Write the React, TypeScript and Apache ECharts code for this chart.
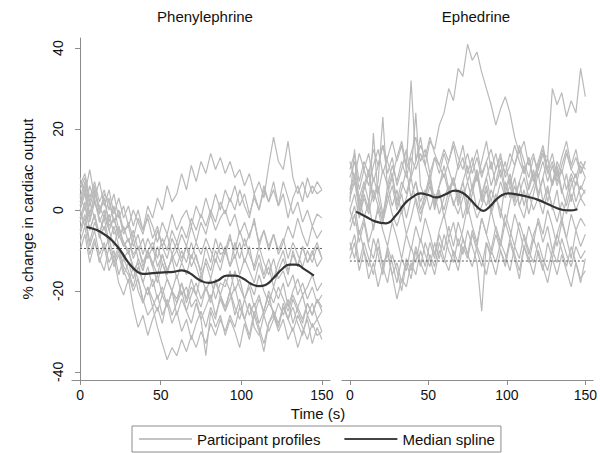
import React, { useEffect, useRef } from "react";
import * as echarts from "echarts";

const TIME_S = [0,3,6,9,12,15,18,21,24,27,30,33,36,39,42,45,48,51,54,57,60,63,66,69,72,75,78,81,84,87,90,93,96,99,102,105,108,111,114,117,120,123,126,129,132,135,138,141,144,147,150];

const X_TICKS = [0, 50, 100, 150];
const Y_TICKS = [-40, -20, 0, 20, 40];

// Phenylephrine participant profiles (% change, sampled every 3 s)
const PHEN_1 = [2,6,-1,4,1,-2,3,-3,-1,-6,-3,-7,-2,-5,1,-2,3,0,6,2,4,9,5,11,7,12,9,14,10,13,9,12,8,10,6,9,4,7,3,11,18,12,10,17,8,4,7,3,6,4,5];
const PHEN_2 = [6,9,3,7,2,5,0,4,-2,1,-4,0,-3,-6,-1,-4,-8,-3,-6,-1,-5,-2,0,-4,1,-2,3,-1,4,0,5,2,6,1,4,-1,3,0,5,2,7,1,4,-2,3,6,2,8,4,7,5];
const PHEN_3 = [3,7,1,5,-1,4,2,-3,0,-5,-4,-9,-6,-11,-7,-10,-5,-9,-12,-7,-10,-6,-9,-4,-8,-3,-6,-1,-5,-2,0,-4,-1,-6,-3,-7,-2,-9,-5,-10,-6,-11,-8,-4,-7,-2,-6,-9,-4,-7,-5];
const PHEN_4 = [0,4,-3,2,-2,-5,-1,-6,-4,-9,-7,-12,-9,-14,-10,-13,-16,-11,-15,-12,-17,-13,-16,-11,-14,-18,-12,-15,-10,-13,-9,-14,-11,-16,-12,-15,-18,-13,-17,-14,-19,-15,-12,-16,-10,-14,-9,-13,-11,-8,-12];
const PHEN_5 = [-3,1,-5,-1,-6,-2,-8,-4,-9,-12,-10,-15,-13,-18,-14,-19,-16,-21,-17,-20,-23,-18,-22,-17,-21,-24,-19,-22,-18,-21,-17,-20,-15,-19,-22,-18,-21,-16,-20,-23,-19,-22,-18,-24,-20,-17,-21,-19,-16,-20,-18];
const PHEN_6 = [-5,-1,-8,-3,-6,-10,-7,-12,-9,-14,-16,-20,-17,-23,-19,-22,-25,-21,-24,-20,-26,-22,-25,-28,-23,-27,-24,-21,-26,-22,-25,-20,-24,-27,-22,-26,-23,-28,-25,-21,-26,-29,-24,-27,-22,-25,-28,-23,-26,-22,-24];
const PHEN_7 = [5,8,2,6,0,3,-3,1,-5,-8,-10,-14,-17,-22,-26,-24,-29,-33,-37,-34,-36,-32,-35,-31,-34,-30,-33,-28,-31,-27,-30,-26,-29,-24,-27,-23,-26,-22,-25,-20,-23,-19,-22,-25,-21,-24,-27,-23,-26,-22,-25];
const PHEN_8 = [-8,-4,-11,-7,-13,-9,-15,-12,-18,-21,-17,-24,-29,-26,-31,-27,-24,-28,-22,-26,-23,-20,-25,-21,-18,-22,-19,-23,-17,-21,-24,-20,-26,-22,-27,-31,-25,-29,-33,-28,-26,-30,-27,-32,-29,-34,-30,-27,-33,-29,-32];
const PHEN_9 = [0,-4,2,-2,-6,-1,-5,-9,-4,-8,-11,-7,-12,-15,-10,-14,-18,-13,-17,-20,-16,-21,-19,-24,-22,-27,-36,-25,-29,-26,-31,-27,-30,-34,-28,-32,-26,-30,-35,-28,-25,-29,-23,-27,-24,-28,-31,-26,-29,-27,-30];
const PHEN_10 = [-10,-6,-13,-8,-12,-15,-9,-14,-11,-16,-13,-17,-12,-15,-10,-14,-9,-13,-16,-11,-14,-10,-13,-8,-12,-15,-9,-13,-7,-11,-10,-6,-12,-8,-13,-9,-15,-11,-16,-12,-17,-13,-10,-15,-11,-14,-9,-13,-10,-14,-12];
const PHEN_11 = [8,4,10,3,7,1,5,-1,3,-2,1,-4,0,-5,-2,-7,-4,-9,-6,-11,-8,-12,-9,-14,-11,-16,-13,-17,-12,-15,-10,-14,-8,-12,-7,-11,-14,-9,-13,-16,-12,-17,-15,-19,-16,-21,-18,-22,-19,-23,-21];
const PHEN_12 = [-2,2,-5,-1,-7,-4,-9,-13,-10,-15,-18,-14,-20,-23,-19,-24,-21,-26,-23,-28,-25,-30,-27,-32,-28,-25,-29,-24,-27,-21,-25,-22,-19,-24,-27,-23,-29,-31,-26,-30,-27,-23,-26,-22,-28,-24,-21,-26,-23,-27,-25];
const PHEN_13 = [4,0,6,2,-1,3,-4,-2,-6,-9,-7,-11,-9,-13,-10,-8,-12,-7,-10,-5,-8,-4,-7,-2,-5,-1,-4,0,-3,2,-1,3,0,5,1,-2,4,0,6,2,5,1,7,3,-1,2,-3,0,-4,-1,-2];
const PHEN_14 = [-6,-2,-9,-5,-11,-8,-13,-10,-16,-12,-15,-19,-14,-18,-21,-17,-22,-19,-24,-20,-22,-18,-23,-19,-21,-16,-20,-17,-22,-18,-19,-15,-20,-17,-22,-19,-24,-21,-26,-23,-25,-28,-24,-27,-30,-26,-29,-32,-28,-31,-30];
const PHEN_15 = [1,5,-2,3,-3,0,-5,-2,-7,-4,-8,-5,-10,-7,-12,-9,-14,-11,-15,-12,-10,-13,-9,-12,-8,-11,-7,-10,-13,-8,-11,-7,-10,-5,-9,-6,-3,-8,-5,-9,-6,-10,-7,-12,-8,-11,-14,-10,-13,-9,-12];

// Ephedrine participant profiles
const EPH_1 = [5,9,3,7,2,8,4,10,6,11,7,12,8,13,10,14,11,17,15,21,24,30,27,35,33,41,37,39,34,30,26,21,25,28,24,18,14,17,11,14,8,12,7,11,6,10,5,9,6,11,8];
const EPH_2 = [0,4,-2,3,-1,5,1,-3,2,6,0,4,-2,3,7,2,5,0,4,-1,3,6,1,5,-2,2,6,0,4,1,5,2,7,3,6,1,4,8,3,6,10,14,13,30,26,29,23,27,24,35,28];
const EPH_3 = [10,14,7,12,9,15,11,16,12,8,13,17,11,32,12,16,13,18,14,11,15,12,17,13,10,14,9,13,8,12,15,10,13,9,14,11,16,12,8,13,10,14,9,12,7,11,15,10,13,9,12];
const EPH_4 = [4,8,1,6,10,3,7,23,5,9,2,7,4,9,24,6,3,8,1,6,9,4,8,2,7,11,5,9,3,8,12,6,10,4,8,2,7,11,5,9,3,8,13,6,10,4,9,2,7,5,8];
const EPH_5 = [0,-4,3,-2,2,-5,1,-3,4,-1,-4,0,-6,-2,3,-1,2,6,1,4,0,5,2,-1,3,7,2,-2,1,5,-1,3,0,-4,2,6,1,-2,4,0,3,-1,5,1,-3,2,-1,4,0,3,1];
const EPH_6 = [-5,-1,-8,-3,-9,-12,-7,-14,-10,-16,-22,-17,-19,-13,-16,-10,-14,-8,-12,-6,-10,-4,-9,-3,-7,-11,-5,-9,-2,-6,-10,-4,-8,-1,-5,-9,-3,-7,-11,-6,-3,-8,-4,-10,-6,-2,-7,-12,-5,-9,-6];
const EPH_7 = [-8,-12,-5,-10,-14,-7,-11,-16,-9,-13,-18,-12,-15,-9,-13,-7,-11,-14,-8,-12,-6,-10,-13,-7,-11,-5,-9,-13,-25,-8,-11,-6,-10,-14,-8,-12,-17,-9,-13,-7,-11,-15,-8,-12,-6,-10,-14,-9,-13,-18,-12];
const EPH_8 = [3,7,0,5,9,2,6,-1,4,8,1,5,10,3,7,0,4,9,2,6,11,5,8,3,7,1,6,10,4,8,2,7,12,5,9,3,7,1,6,10,4,8,2,7,11,5,1,6,9,3,5];
const EPH_9 = [-3,1,-6,-2,-8,-4,0,-5,-9,-3,-7,-12,-6,-10,-4,-8,-2,-6,-11,-5,-1,-7,-3,-9,-5,1,-4,-8,-2,-6,0,-5,-9,-3,-7,-1,-5,-10,-4,-8,-2,-6,0,-4,-9,-3,-7,-1,-5,-2,-4];
const EPH_10 = [8,12,5,10,14,7,11,16,9,13,6,10,15,8,12,18,11,7,13,9,14,10,6,11,16,9,13,7,12,17,10,14,8,12,6,11,15,9,13,7,12,16,10,14,8,13,17,11,15,9,12];
const EPH_11 = [-10,-6,-13,-8,-12,-16,-9,-14,-18,-11,-15,-20,-13,-17,-10,-14,-8,-12,-16,-10,-13,-7,-11,-15,-9,-12,-6,-10,-14,-8,-12,-16,-10,-13,-7,-11,-15,-9,-12,-16,-10,-14,-18,-12,-16,-11,-15,-19,-13,-17,-15];
const EPH_12 = [2,15,-1,4,0,19,3,-2,6,1,5,-1,3,8,2,-3,4,7,0,5,-2,3,8,1,5,-1,4,9,2,6,0,4,-2,7,3,8,1,5,-1,4,9,2,6,0,5,-3,3,8,2,6,4];
const EPH_13 = [12,8,14,10,6,11,15,9,13,17,12,16,10,14,18,12,15,9,13,11,8,12,16,10,13,7,11,15,9,12,6,10,14,8,11,16,12,9,13,7,11,15,10,6,12,9,14,10,8,12,10];
const EPH_14 = [-12,-8,-15,-10,-17,-13,-19,-14,-11,-16,-13,-18,-12,-15,-9,-13,-16,-11,-14,-8,-12,-15,-10,-13,-7,-11,-14,-9,-12,-16,-10,-13,-8,-11,-15,-9,-12,-6,-10,-13,-8,-12,-15,-10,-13,-7,-11,-14,-9,-12,-10];

// Median splines: [time, % change]
const PHEN_MEDIAN = [[4,-4.2],[10,-4.9],[15,-6],[20,-7.6],[25,-10],[30,-13],[35,-15.1],[39,-15.8],[45,-15.6],[52,-15.4],[58,-15.3],[63,-14.9],[68,-15.6],[74,-17.3],[80,-18],[85,-17.5],[91,-16.2],[96,-16.2],[101,-16.9],[106,-18.2],[111,-18.8],[115,-18.5],[120,-16.8],[125,-14.7],[130,-13.5],[134,-13.5],[139,-14.6],[145,-16.2]];
const EPH_MEDIAN = [[4,-0.4],[10,-1.6],[16,-2.8],[23,-3.3],[29,-1.5],[35,1.6],[40,3.2],[45,4.1],[50,3.7],[55,3.1],[61,3.9],[67,4.8],[72,4.2],[77,2.5],[81,0.8],[85,-0.2],[89,0.8],[93,2.5],[97,3.7],[101,4.1],[107,3.8],[114,3.2],[120,2.5],[126,1.5],[131,0.6],[136,0],[140,-0.1],[145,0.2]];

// Reference (dotted) levels
const PHEN_REF = -9.5;
const EPH_REF = -12.6;
const REF_SPAN = [0, 150];

const PHEN_PROFILES = [PHEN_1, PHEN_2, PHEN_3, PHEN_4, PHEN_5, PHEN_6, PHEN_7, PHEN_8, PHEN_9, PHEN_10, PHEN_11, PHEN_12, PHEN_13, PHEN_14, PHEN_15];
const EPH_PROFILES = [EPH_1, EPH_2, EPH_3, EPH_4, EPH_5, EPH_6, EPH_7, EPH_8, EPH_9, EPH_10, EPH_11, EPH_12, EPH_13, EPH_14];

const FONT = "'Liberation Sans', Arial, Helvetica, sans-serif";
const GRAY = "#b9b9b9";
const DARK = "#333333";
const AXIS = "#8c8c8c";

export default function App() {
  const ref = useRef<HTMLDivElement>(null);

  useEffect(() => {
    if (!ref.current) return;
    const chart = echarts.init(ref.current, null, { renderer: "svg" });

    const profileSeries = (profiles: number[][], idx: number) =>
      profiles.map((p) => ({
        name: "Participant profiles",
        type: "line",
        xAxisIndex: idx,
        yAxisIndex: idx,
        data: TIME_S.map((t, i) => [t, p[i]]),
        showSymbol: false,
        symbol: "none",
        lineStyle: { color: GRAY, width: 1.2 },
        itemStyle: { color: GRAY },
        silent: true,
        z: 2,
      }));

    const refSeries = (v: number, idx: number) => ({
      name: "ref",
      type: "line",
      xAxisIndex: idx,
      yAxisIndex: idx,
      data: REF_SPAN.map((t) => [t, v]),
      symbol: "none",
      lineStyle: { color: "#555", width: 1, type: [2, 2] },
      silent: true,
      z: 3,
    });

    const medianSeries = (d: number[][], idx: number) => ({
      name: "Median spline",
      type: "line",
      xAxisIndex: idx,
      yAxisIndex: idx,
      data: d,
      smooth: true,
      symbol: "none",
      lineStyle: { color: DARK, width: 2.2 },
      itemStyle: { color: DARK },
      silent: true,
      z: 4,
    });

    const xAxisBase = (idx: number) => ({
      gridIndex: idx,
      type: "value",
      min: -5,
      max: 155,
      axisLine: { show: true, onZero: false, lineStyle: { color: AXIS, width: 1 } },
      axisTick: { show: true, customValues: X_TICKS, length: 5, lineStyle: { color: AXIS } },
      axisLabel: { customValues: X_TICKS, color: "#111", fontSize: 14, fontFamily: FONT, margin: 8 },
      splitLine: { show: false },
    });

    chart.setOption({
      animation: false,
      backgroundColor: "#ffffff",
      grid: [
        { left: 72, top: 38, width: 258, height: 342 },
        { left: 342, top: 38, width: 258, height: 342 },
      ],
      xAxis: [xAxisBase(0), xAxisBase(1)],
      yAxis: [
        {
          gridIndex: 0,
          type: "value",
          min: -42,
          max: 42.5,
          name: "% change in cardiac output",
          nameLocation: "middle",
          nameGap: 37,
          nameTextStyle: { color: "#111", fontSize: 15, fontFamily: FONT },
          axisLine: { show: true, lineStyle: { color: AXIS, width: 1 } },
          axisTick: { show: true, customValues: Y_TICKS, length: 5, lineStyle: { color: AXIS } },
          axisLabel: { customValues: Y_TICKS, rotate: 90, color: "#111", fontSize: 14, fontFamily: FONT, margin: 7 },
          splitLine: { show: false },
        },
        { gridIndex: 1, type: "value", min: -42, max: 42.5, show: false },
      ],
      legend: {
        data: [
          { name: "Participant profiles", icon: "rect", itemStyle: { color: "#c4c4c4" } },
          { name: "Median spline", icon: "rect", itemStyle: { color: "#444" } },
        ],
        left: 132,
        top: 426,
        orient: "horizontal",
        itemWidth: 53,
        itemHeight: 2,
        itemGap: 24,
        padding: [4, 6, 4, 7],
        borderColor: "#8c8c8c",
        borderWidth: 1,
        textStyle: { color: "#111", fontSize: 15, fontFamily: FONT, lineHeight: 18 },
        selectedMode: false,
      },
      graphic: [
        { type: "text", x: 205, y: 16, style: { text: "Phenylephrine", fill: "#111", font: `15px ${FONT}`, textAlign: "center", textVerticalAlign: "middle" } },
        { type: "text", x: 476, y: 16, style: { text: "Ephedrine", fill: "#111", font: `15px ${FONT}`, textAlign: "center", textVerticalAlign: "middle" } },
        { type: "text", x: 318, y: 413, style: { text: "Time (s)", fill: "#111", font: `15px ${FONT}`, textAlign: "center", textVerticalAlign: "middle" } },
      ],
      series: [
        ...profileSeries(PHEN_PROFILES, 0),
        ...profileSeries(EPH_PROFILES, 1),
        refSeries(PHEN_REF, 0),
        refSeries(EPH_REF, 1),
        medianSeries(PHEN_MEDIAN, 0),
        medianSeries(EPH_MEDIAN, 1),
      ],
    });

    return () => chart.dispose();
  }, []);

  return (
    <div
      ref={ref}
      style={{ position: "absolute", left: 0, top: 0, width: 600, height: 453, background: "#fff" }}
    />
  );
}
